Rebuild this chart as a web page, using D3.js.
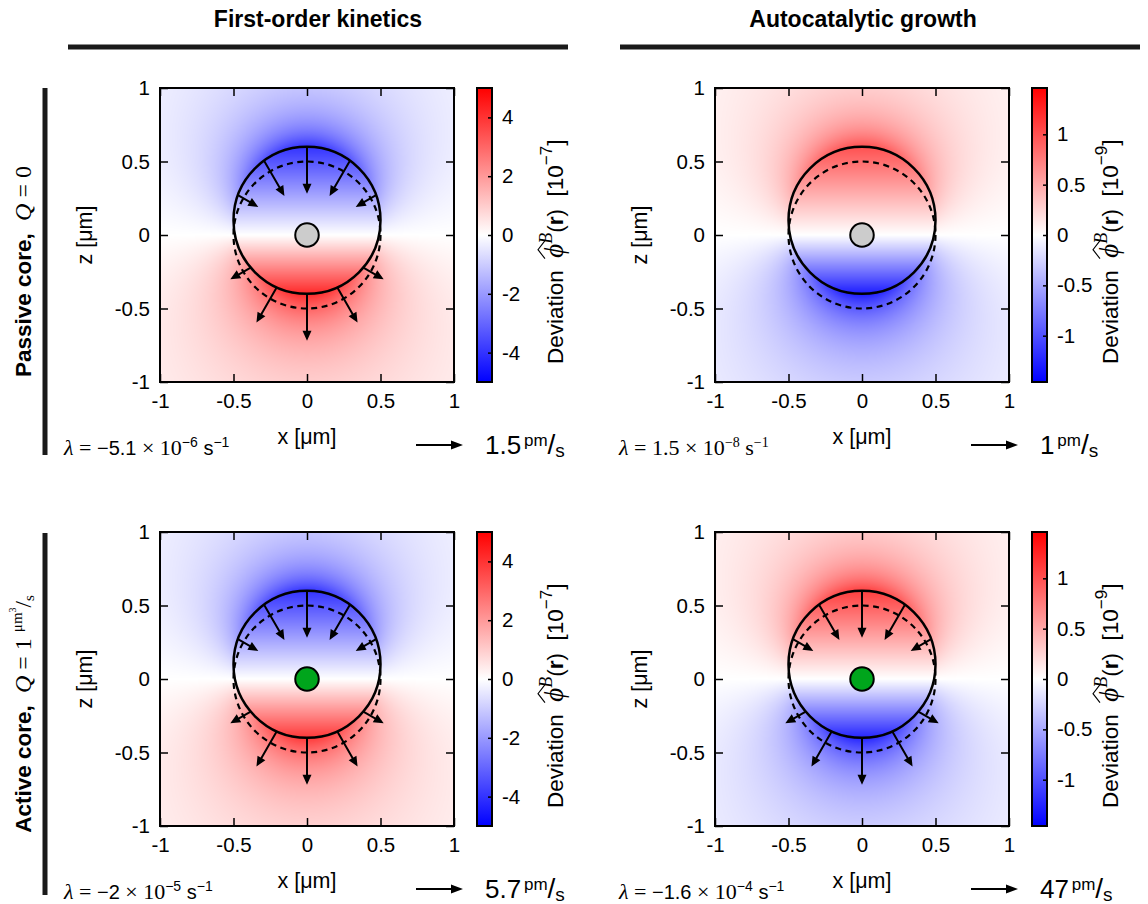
<!DOCTYPE html>
<html>
<head>
<meta charset="utf-8">
<script src="https://cdn.jsdelivr.net/npm/d3@7"></script>
<style>
  body { margin: 0; background: #fff; }
  svg text { white-space: pre; }
</style>
</head>
<body>
<svg id="fig" width="1148" height="904"></svg>
<script>
// ---------- data ----------
const columnTitles = ["First-order kinetics", "Autocatalytic growth"];
const rowTitles = ["Passive core,", "Active core,"];
const axisTicks = [-1, -0.5, 0, 0.5, 1];
const axisTickLabels = ["-1", "-0.5", "0", "0.5", "1"];

// panels in reading order: passive/first-order, passive/autocatalytic, active/first-order, active/autocatalytic
const colorbarMax = [5, 1.46, 5, 1.46];
const colorbarTicks = [[-4, -2, 0, 2, 4], [-1, -0.5, 0, 0.5, 1], [-4, -2, 0, 2, 4], [-1, -0.5, 0, 0.5, 1]];
const colorbarTickLabels = [["-4", "-2", "0", "2", "4"], ["-1", "-0.5", "0", "0.5", "1"],
                            ["-4", "-2", "0", "2", "4"], ["-1", "-0.5", "0", "0.5", "1"]];
const colorbarExponent = ["−7", "−9", "−7", "−9"];
// deviation at the top (z = 0.6) and bottom (z = -0.4) of the droplet surface, colorbar units
const deviationTop = [-4.0, 1.0, -4.0, 1.1];
const deviationBottom = [4.2, -1.3, 3.9, -1.25];
// growth rate labels
const lambdaMantissa = ["−5.1", "1.5", "−2", "−1.6"];
const lambdaExponent = ["−6", "−8", "−5", "−4"];
// velocity scale arrows (pm/s) and surface speed at the poles (pm/s)
const legendSpeed = [1.5, 1, 5.7, 47];
const legendSpeedLabels = ["1.5", "1", "5.7", "47"];
const surfaceSpeed = [1.5, 0, 5.7, 47];
// geometry in µm
const dropletCenterZ = 0.1;
const dropletRadius = 0.5;
const restRadius = 0.5;
const coreRadius = 0.08;
const arrowAngles = [-60, -30, 0, 30, 60];   // degrees from the z axis, seen from the core
const coreActive = [false, false, true, true];

// ---------- layout ----------
const colX = [160, 715];
const rowY = [88, 532];
const S = 294;
const cbOffset = 317, cbW = 15;
const legendArrowPx = 47;
const sans = '"Liberation Sans", Arial, Helvetica, sans-serif';
const serif = '"Liberation Serif", "Times New Roman", serif';
const ink = "#000";

const svg = d3.select("#fig");

function richText(parent, parts, attrs) {
  const t = parent.append("text");
  Object.entries(attrs || {}).forEach(([k, v]) => t.attr(k, v));
  let rise = 0;
  parts.forEach(pt => {
    const r = pt.rise || 0;
    const s = t.append("tspan").text(pt.t)
      .attr("dy", rise - r)
      .style("font-family", pt.font || sans)
      .style("font-size", (pt.size || 20) + "px")
      .style("font-weight", pt.weight || "normal")
      .style("font-style", pt.style || "normal")
      .attr("fill", ink);
    if (pt.dx) s.attr("dx", pt.dx);
    rise = r;
  });
  return t;
}

// dipole-like deviation field around the displaced droplet
function deviation(x, z, p) {
  const R = dropletRadius;
  const rho = Math.hypot(x, z - dropletCenterZ);
  const a = z >= 0
    ? deviationTop[p] / ((dropletCenterZ + R) / R)
    : deviationBottom[p] / ((dropletCenterZ - R) / R);
  return rho <= R ? a * z / R : a * z * R * R / Math.pow(rho, 3);
}

function arrowPolygon(x1, y1, x2, y2, shaft, headLen, headHalf) {
  const L = Math.hypot(x2 - x1, y2 - y1);
  const ux = (x2 - x1) / L, uy = (y2 - y1) / L;
  const nx = -uy, ny = ux;
  const hl = Math.min(headLen, L);
  const bx = x2 - ux * hl, by = y2 - uy * hl;
  const w = shaft / 2;
  const pts = [
    [x1 + nx * w, y1 + ny * w], [bx + nx * w, by + ny * w], [bx + nx * headHalf, by + ny * headHalf],
    [x2, y2],
    [bx - nx * headHalf, by - ny * headHalf], [bx - nx * w, by - ny * w], [x1 - nx * w, y1 - ny * w]
  ];
  return "M" + pts.map(q => q.join(",")).join("L") + "Z";
}

const defs = svg.append("defs");

// ---------- column titles and rules ----------
const titleCenters = [318, 863];
const titleRules = [[68, 568], [620, 1140]];
columnTitles.forEach((t, c) => {
  svg.append("text").attr("x", titleCenters[c]).attr("y", 27).attr("text-anchor", "middle")
    .style("font-family", sans).style("font-weight", "bold").style("font-size", "23px").text(t);
  svg.append("line").attr("x1", titleRules[c][0]).attr("x2", titleRules[c][1])
    .attr("y1", 47).attr("y2", 47).attr("stroke", "#1a1a1a").attr("stroke-width", 5);
});

// ---------- row titles and rules ----------
const rowRules = [[88, 455], [533, 895]];
rowTitles.forEach((t, r) => {
  svg.append("line").attr("x1", 45).attr("x2", 45).attr("y1", rowRules[r][0]).attr("y2", rowRules[r][1])
    .attr("stroke", "#1a1a1a").attr("stroke-width", 5);
  const cy = (rowRules[r][0] + rowRules[r][1]) / 2;
  const g = svg.append("g").attr("transform", `translate(31,${cy}) rotate(-90)`);
  const parts = [{ t: t, weight: "bold", size: 22.5 }, { t: "  ", size: 22 },
                 { t: "Q", font: serif, style: "italic", size: 24 }, { t: " = ", font: serif, size: 24 }];
  if (r === 0) {
    parts.push({ t: "0", font: serif, size: 24 });
  } else {
    parts.push({ t: "1 ", font: serif, size: 24 },
               { t: "μm", font: serif, size: 15, rise: 9 },
               { t: "3", font: serif, size: 10, rise: 15 },
               { t: "/", font: serif, size: 23, rise: 0 },
               { t: "s", font: serif, size: 15, rise: -3 });
  }
  richText(g, parts, { "text-anchor": "middle" });
});

// ---------- panels ----------
d3.range(4).forEach(p => {
  const r = Math.floor(p / 2), c = p % 2;
  const x0 = colX[c], y0 = rowY[r];
  const g = svg.append("g");
  const xs = d3.scaleLinear().domain([-1, 1]).range([x0, x0 + S]);
  const zs = d3.scaleLinear().domain([-1, 1]).range([y0 + S, y0]);
  const m = colorbarMax[p];
  const cmap = d3.scaleLinear().domain([-m, 0, m]).range(["#0000ff", "#ffffff", "#ff0000"]).clamp(true);

  // field raster
  const cv = document.createElement("canvas");
  cv.width = S; cv.height = S;
  const ctx = cv.getContext("2d");
  const img = ctx.createImageData(S, S);
  for (let j = 0; j < S; j++) {
    for (let i = 0; i < S; i++) {
      const x = xs.invert(x0 + i + 0.5), z = zs.invert(y0 + j + 0.5);
      const col = d3.rgb(cmap(deviation(x, z, p)));
      const k = 4 * (j * S + i);
      img.data[k] = col.r; img.data[k + 1] = col.g; img.data[k + 2] = col.b; img.data[k + 3] = 255;
    }
  }
  ctx.putImageData(img, 0, 0);
  g.append("image").attr("x", x0).attr("y", y0).attr("width", S).attr("height", S)
    .attr("preserveAspectRatio", "none").attr("href", cv.toDataURL());

  const pxPerUm = xs(1) - xs(0);

  // resting (dashed) and displaced (solid) droplet outline
  g.append("circle").attr("cx", xs(0)).attr("cy", zs(0)).attr("r", restRadius * pxPerUm)
    .attr("fill", "none").attr("stroke", ink).attr("stroke-width", 2.2).attr("stroke-dasharray", "6,4.5");
  g.append("circle").attr("cx", xs(0)).attr("cy", zs(dropletCenterZ)).attr("r", dropletRadius * pxPerUm)
    .attr("fill", "none").attr("stroke", ink).attr("stroke-width", 2.5);

  // interface velocity arrows
  const pxPerSpeed = legendArrowPx / legendSpeed[p];
  if (surfaceSpeed[p] > 0) {
    [1, -1].forEach(side => {
      arrowAngles.forEach(a => {
        const th = a * Math.PI / 180;
        const dx = Math.sin(th), dz = side * Math.cos(th);
        const dc = dz * dropletCenterZ;
        const t = dc + Math.sqrt(dc * dc - dropletCenterZ * dropletCenterZ + dropletRadius * dropletRadius);
        const sx = t * dx, sz = t * dz;
        const len = surfaceSpeed[p] * Math.cos(th) * pxPerSpeed;     // px
        const dir = side > 0 ? -1 : 1;                               // inward on top, outward below
        const ex = xs(sx) + dir * dx * len, ey = zs(sz) - dir * dz * len;
        g.append("path").attr("d", arrowPolygon(xs(sx), zs(sz), ex, ey, 2, 10, 4.5)).attr("fill", ink);
      });
    });
  }

  // core
  g.append("circle").attr("cx", xs(0)).attr("cy", zs(0)).attr("r", coreRadius * pxPerUm)
    .attr("fill", coreActive[p] ? "#00a51c" : "#cccccc").attr("stroke", ink).attr("stroke-width", 2);

  // frame and ticks
  const fmt = v => axisTickLabels[axisTicks.indexOf(v)];
  const styleAxis = sel => {
    sel.select(".domain").remove();
    sel.selectAll(".tick line").attr("stroke", ink).attr("stroke-width", 1.5);
    sel.selectAll("text").style("font-family", sans).style("font-size", "20.5px").attr("fill", ink);
  };
  g.append("g").attr("transform", `translate(0,${y0 + S})`)
    .call(d3.axisBottom(xs).tickValues(axisTicks).tickFormat(fmt).tickSize(-8).tickPadding(11)).call(styleAxis);
  g.append("g").attr("transform", `translate(0,${y0})`)
    .call(d3.axisTop(xs).tickValues(axisTicks).tickFormat("").tickSize(-8)).call(styleAxis);
  g.append("g").attr("transform", `translate(${x0},0)`)
    .call(d3.axisLeft(zs).tickValues(axisTicks).tickFormat(fmt).tickSize(-8).tickPadding(10)).call(styleAxis);
  g.append("g").attr("transform", `translate(${x0 + S},0)`)
    .call(d3.axisRight(zs).tickValues(axisTicks).tickFormat("").tickSize(-8)).call(styleAxis);
  g.append("rect").attr("x", x0).attr("y", y0).attr("width", S).attr("height", S)
    .attr("fill", "none").attr("stroke", ink).attr("stroke-width", 2);

  // axis labels
  g.append("text").attr("x", xs(0)).attr("y", y0 + S + 62).attr("text-anchor", "middle")
    .style("font-family", sans).style("font-size", "21.5px").text("x [μm]");
  g.append("text").attr("transform", `translate(${x0 - 68},${zs(0)}) rotate(-90)`).attr("text-anchor", "middle")
    .style("font-family", sans).style("font-size", "21.5px").text("z [μm]");

  // colorbar
  const cbx = x0 + cbOffset;
  const gid = "cbgrad" + p;
  const grad = defs.append("linearGradient").attr("id", gid).attr("x1", 0).attr("y1", 1).attr("x2", 0).attr("y2", 0);
  [-m, 0, m].forEach((v, i) => grad.append("stop").attr("offset", i / 2).attr("stop-color", cmap(v)));
  g.append("rect").attr("x", cbx).attr("y", y0).attr("width", cbW).attr("height", S).attr("fill", `url(#${gid})`);
  const cs = d3.scaleLinear().domain([-m, m]).range([y0 + S, y0]);
  const cbFmt = v => colorbarTickLabels[p][colorbarTicks[p].indexOf(v)];
  g.append("g").attr("transform", `translate(${cbx + cbW},0)`)
    .call(d3.axisRight(cs).tickValues(colorbarTicks[p]).tickFormat(cbFmt).tickSize(-4).tickPadding(10))
    .call(styleAxis);
  g.append("rect").attr("x", cbx).attr("y", y0).attr("width", cbW).attr("height", S)
    .attr("fill", "none").attr("stroke", ink).attr("stroke-width", 2);

  // colorbar label with hat over phi, read from bottom to top
  const lg = g.append("g").attr("transform", `translate(${x0 + 403},${y0 + 276}) rotate(-90)`);
  const labelParts = [
    { t: "Deviation  ", size: 22.5 },
    { t: "ϕ", font: serif, style: "italic", size: 27 },
    { t: "B", font: serif, style: "italic", size: 18, rise: 11 },
    { t: "(", size: 22.5, rise: 0 },
    { t: "r", weight: "bold", size: 22.5 },
    { t: ")  [10", size: 22.5 },
    { t: colorbarExponent[p], size: 17, rise: 11 },
    { t: "]", size: 22.5, rise: 0 }
  ];
  const lt = richText(lg, labelParts, { "text-anchor": "start", x: 0, y: 0 });
  const phiIndex = labelParts[0].t.length;
  const ext = lt.node().getExtentOfChar(phiIndex);
  lg.append("path")
    .attr("d", `M${ext.x - 1},-18 L${ext.x + ext.width / 2 + 1},-25 L${ext.x + ext.width + 3},-18`)
    .attr("fill", "none").attr("stroke", ink).attr("stroke-width", 1.1);

  // growth rate
  const numFont = p === 1 ? serif : sans;
  richText(g, [
    { t: "λ", font: serif, style: "italic", size: 22 },
    { t: " = ", font: serif, size: 22 },
    { t: lambdaMantissa[p], font: numFont, size: p === 1 ? 22 : 20 },
    { t: " × 10", font: serif, size: 22 },
    { t: lambdaExponent[p], font: numFont, size: 14, rise: 8 },
    { t: " s", font: numFont, size: p === 1 ? 22 : 20, rise: 0 },
    { t: "−1", font: numFont, size: 14, rise: 8 }
  ], { x: x0 - 96, y: y0 + S + 73 });

  // velocity scale arrow
  const ax2 = x0 + S + 9, ay = y0 + S + 63;
  g.append("path").attr("d", arrowPolygon(ax2 - legendSpeed[p] * pxPerSpeed, ay, ax2, ay, 2.2, 12, 4.5)).attr("fill", ink);
  richText(g, [
    { t: legendSpeedLabels[p], size: 26 },
    { t: " ", size: 10 },
    { t: "pm", size: 17, rise: 8 },
    { t: "/", size: 28, rise: 0 },
    { t: "s", size: 19, rise: -3 }
  ], { x: ax2 + 22, y: y0 + S + 72 });
});
</script>
</body>
</html>
